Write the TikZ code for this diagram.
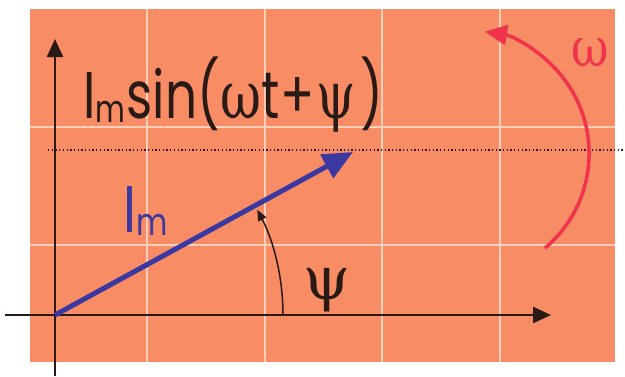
\documentclass[tikz,border=0pt]{standalone}
\usepackage{fontspec}
\setmainfont{Poppins}
\newfontfamily\grk{DejaVu Serif}
\usetikzlibrary{arrows.meta}
\definecolor{bgorange}{HTML}{F88C64}
\definecolor{gridc}{HTML}{FBD0BA}
\definecolor{axisc}{HTML}{2A1A16}
\definecolor{vecc}{HTML}{3B38A2}
\definecolor{redc}{HTML}{F0344E}
\tikzset{
  gridline/.style={draw=gridc, line width=1.3},
  axisline/.style={draw=axisc, line width=2.4, -{Triangle[length=18, width=16]}},
  vecline/.style={draw=vecc, line width=5, -{Triangle[length=30, width=26]}},
  anglearc/.style={draw=axisc, line width=1.5, -{Triangle[length=11, width=9]}},
  redarc/.style={draw=redc, line width=3.5, -{Triangle[length=22, width=20]}},
  dotline/.style={draw=axisc, line width=1.3, dash pattern=on 1.3pt off 2.4pt},
  bigtext/.style={inner sep=0, text=axisc, font=\fontsize{66}{66}\selectfont}
}
\begin{document}
\begin{tikzpicture}[x=1pt,y=1pt]
\useasboundingbox (0,0) rectangle (625,376);
\fill[white] (0,0) rectangle (625,376);
\fill[bgorange] (30,14) rectangle (615,367);
\foreach \x in {147,265,382,500} \draw[gridline] (\x,14) -- (\x,367);
\foreach \y in {131,249} \draw[gridline] (30,\y) -- (615,\y);
% coordinates
\coordinate (O) at (55,61);
\coordinate (xs) at (5,61);
\coordinate (xe) at (551,61);
\coordinate (ys) at (55,0);
\coordinate (ye) at (55,337);
\coordinate (V) at (353,224);
\coordinate (ds) at (48,226);
\coordinate (de) at (625,226);
\coordinate (a0) at (283,61);
\coordinate (rc) at (465.7,222.5);
% lines
\draw[dotline] (ds) -- (de);
\draw[axisline] (xs) -- (xe);
\draw[axisline] (ys) -- (ye);
\draw[vecline] (O) -- (V);
\draw[anglearc] (a0) arc[start angle=0, end angle=27.5, radius=228];
\draw[redarc] ([shift={(-50:123.4)}]rc) arc[start angle=-50, end angle=81, radius=123.4];
% texts
\node[bigtext, anchor=base west, xscale=0.76] (title) at (83,258) {I\raisebox{-4pt}{\fontsize{38}{38}\selectfont m}\kern2pt sin({\grk ω}t\kern2pt+\kern2pt{\grk ψ}\kern6pt)};
\node[bigtext, text=vecc, anchor=base west, xscale=0.8] (im) at (123,144) {I\raisebox{-3pt}{\fontsize{38}{38}\selectfont m}};
\node[bigtext, anchor=base, font=\fontsize{60}{60}\selectfont\grk] (psi) at (327,77) {ψ};
\node[inner sep=0, text=redc, anchor=base, font=\fontsize{54}{54}\selectfont\grk, xscale=0.85] (om) at (590,309) {ω};
\end{tikzpicture}
\end{document}
